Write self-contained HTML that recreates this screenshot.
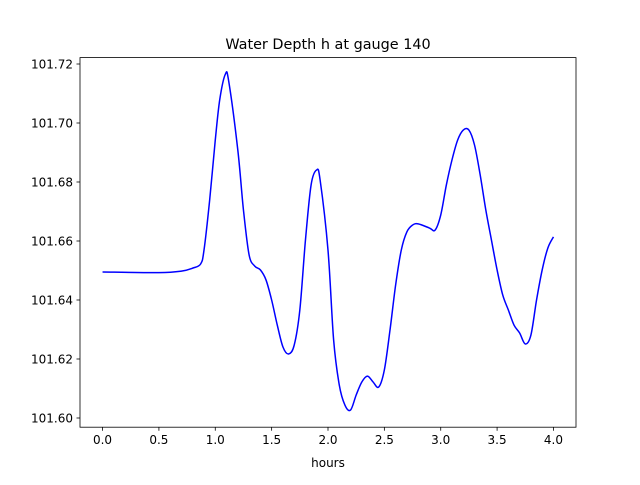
<!DOCTYPE html>
<html><head><meta charset="utf-8"><style>
body{margin:0;background:#fff;}
svg text{font-family:"DejaVu Sans","Liberation Sans",sans-serif;fill:#000;}
</style></head><body>
<svg id="chart" width="640" height="480" viewBox="0 0 640 480">
<rect width="640" height="480" fill="#fff"/>
<text x="328" y="49" text-anchor="middle" font-size="14.4">Water Depth h at gauge 140</text>
<g id="plot"></g>
<rect x="80" y="57.6" width="496" height="369.6" fill="none" stroke="#000" stroke-width="0.8"/>
<text x="328" y="467" text-anchor="middle" font-size="12">hours</text>
</svg>
<script>
const hours=[0,0.5,0.7,0.8,0.87,0.9,0.95,1.0,1.04,1.09,1.12,1.2,1.25,1.3,1.35,1.4,1.45,1.5,1.55,1.6,1.65,1.7,1.75,1.8,1.85,1.9,1.93,2.0,2.05,2.1,2.15,2.2,2.25,2.3,2.35,2.4,2.45,2.5,2.55,2.6,2.65,2.7,2.75,2.8,2.9,2.95,3.0,3.05,3.1,3.15,3.2,3.25,3.3,3.35,3.4,3.45,3.5,3.55,3.6,3.65,3.7,3.75,3.8,3.85,3.9,3.95,4.0];
const depth=[101.6495,101.6493,101.6498,101.6508,101.6522,101.6569,101.6738,101.6942,101.7080,101.7166,101.7140,101.6908,101.6705,101.6553,101.6515,101.6502,101.6468,101.6400,101.6315,101.6241,101.6217,101.6247,101.6366,101.6603,101.6790,101.6841,101.6807,101.6569,101.6264,101.6112,101.6044,101.6027,101.6078,101.6122,101.6142,101.6122,101.6105,101.6163,101.6298,101.6451,101.6569,101.6631,101.6654,101.6658,101.6644,101.6637,101.6688,101.6790,101.6875,101.6942,101.6976,101.6976,101.6925,101.6824,101.6705,101.6603,101.6502,101.6417,101.6366,101.6315,101.6288,101.6251,101.6281,101.6400,101.6502,101.6576,101.6614];
const xTicks=[0,0.5,1,1.5,2,2.5,3,3.5,4];
const xTickLabels=["0.0","0.5","1.0","1.5","2.0","2.5","3.0","3.5","4.0"];
const yTicks=[101.60,101.62,101.64,101.66,101.68,101.70,101.72];
const yTickLabels=["101.60","101.62","101.64","101.66","101.68","101.70","101.72"];
const L=80,R=576,T=57.6,B=427.2;
const xMin=-0.2,xMax=4.2,yMin=101.59688,yMax=101.72217;
const sx=v=>L+(v-xMin)/(xMax-xMin)*(R-L);
const sy=v=>B-(v-yMin)/(yMax-yMin)*(B-T);
const NS="http://www.w3.org/2000/svg";
const g=document.getElementById('plot');
function mk(t,a){const e=document.createElementNS(NS,t);for(const k in a)e.setAttribute(k,a[k]);g.appendChild(e);return e;}
xTicks.forEach((v,i)=>{
 const l=mk('line',{x1:sx(v),x2:sx(v),y1:B,y2:B+3.5,stroke:'#000','stroke-width':0.8});
 
 
 const t=mk('text',{x:sx(v),y:B+17,'text-anchor':'middle','font-size':12});
 t.textContent=xTickLabels[i];
 
 
});
yTicks.forEach((v,i)=>{
 const l=mk('line',{x1:L-3.5,x2:L,y1:sy(v),y2:sy(v),stroke:'#000','stroke-width':0.8});
 
 
 const t=mk('text',{x:L-7,y:sy(v)+4.5,'text-anchor':'end','font-size':12});
 t.textContent=yTickLabels[i];
 
 
});
const P=hours.map((h,i)=>[sx(h),sy(depth[i])]);
let d=`M${P[0][0]},${P[0][1]}`;
for(let i=0;i<P.length-1;i++){
 const p0=P[Math.max(0,i-1)],p1=P[i],p2=P[i+1],p3=P[Math.min(P.length-1,i+2)];
 const c1=[p1[0]+(p2[0]-p0[0])/6,p1[1]+(p2[1]-p0[1])/6];
 const c2=[p2[0]-(p3[0]-p1[0])/6,p2[1]-(p3[1]-p1[1])/6];
 d+=` C${c1[0]},${c1[1]} ${c2[0]},${c2[1]} ${p2[0]},${p2[1]}`;
}
const line=mk('path',{d:d,fill:'none',stroke:'#0000ff','stroke-width':1.5});


</script>
</body></html>
